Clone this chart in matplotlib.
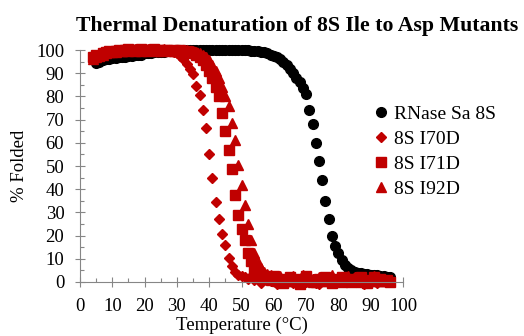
import matplotlib
matplotlib.use("Agg")
import matplotlib.pyplot as plt
import numpy as np
from matplotlib.ticker import MultipleLocator

plt.rcParams['font.family'] = ['Liberation Serif', 'DejaVu Serif']

# temperatures (degC)
temp_wt = np.arange(5, 97)
temp_mut = np.arange(4, 97)

# % folded, RNase Sa 8S (black circles), T = 5..96
folded_wt = [
    94.5, 95, 95.5, 96, 96, 96.5, 96.5, 97, 97, 97,            # 5-14
    97.5, 97.5, 98, 98, 98, 98.5, 98.5, 98.5, 99, 99,          # 15-24
    99, 99, 99.5, 99.5, 99.5, 100, 100, 100, 100, 100,         # 25-34
    100, 100, 100, 100, 100, 100, 100, 100, 100, 100,          # 35-44
    100, 100, 100, 100, 100, 100, 100, 100, 99.5, 99.5,        # 45-54
    99.5, 99, 99, 98.5, 98, 97.5, 97, 96, 95, 93.5,            # 55-64
    92, 90, 88, 86, 83.5, 81, 74, 68, 60, 52,                  # 65-74
    44, 35, 27, 20, 15.5, 12.4, 9.5, 7.5, 6, 5,                # 75-84
    4.5, 4, 4, 3.5, 3.5, 3, 3, 3, 2.5, 2.5,                    # 85-94
    2, 2,                                                      # 95-96
]

# % folded, 8S I70D (diamonds), T = 4..96
folded_i70d = [
    96.5, 97.5, 98, 98.5, 99, 98.5, 99.5, 99, 99.5, 100,       # 4-13
    99.5, 100, 99.5, 100, 100.5, 99.5, 100, 100, 100.5, 99.5,  # 14-23
    100, 100, 99.5, 100, 99.5, 99, 98.5, 97.5, 96, 94,         # 24-33
    92, 89.5, 84.5, 80.5, 74, 66.5, 55, 45, 34.5, 27,          # 34-43
    20.5, 16, 10.5, 7, 4.5, 3, 2.5, 2, 1.5, 2.5,               # 44-53
    1, 1.5, -0.5, 1, 2.5, 0.5, 1, -1, 1.5, 0.5,                # 54-63
    2, 0.5, -0.5, 1.5, 0.5, 2.5, 0, 0.5, 1.5, -0.5,            # 64-73
    -1, 1, 0.5, 2, 0.5, -0.5, 1.5, 0.5, 1, 0,                  # 74-83
    0.5, 2, 0.5, 1, -1, 0.5, 1.5, 0.5, -0.5, 1,                # 84-93
    0.5, 0, 0.5,                                               # 94-96
]

# % folded, 8S I71D (squares), T = 4..96
folded_i71d = [
    97, 98, 97.5, 98.5, 99, 99.5, 99, 99.5, 100, 99.5,         # 4-13
    100, 100.5, 100, 99.5, 100, 100.5, 100, 99.5, 100, 100.5,  # 14-23
    100, 99.5, 100, 100, 99.5, 100, 99.5, 100, 99.5, 99.5,     # 24-33
    99, 98.5, 98, 97, 95.5, 93.5, 91, 88, 84, 80,              # 34-43
    73, 65, 57, 48.5, 37.5, 29, 23, 18, 12.5, 9,               # 44-53
    6, 4, 3, 2.5, 2, 1, 2.5, 0.5, 1.5, -0.5,                   # 54-63
    1, 2, 0.5, 1.5, -1, 1, 2.5, 0.5, 1, 0,                     # 64-73
    1.5, 0.5, 2, 1, -0.5, 1.5, 0.5, 2, 0.5, 1,                 # 74-83
    0, 1.5, 1, 2, 0.5, -0.5, 1, 2, 0.5, 1.5,                   # 84-93
    0.5, 1, 0,                                                 # 94-96
]

# % folded, 8S I92D (triangles), T = 4..96
folded_i92d = [
    96, 97, 98, 98, 98.5, 99, 99.5, 99, 100, 99.5,             # 4-13
    100, 99.5, 100, 100.5, 100, 99.5, 100, 100.5, 100, 100,    # 14-23
    99.5, 100, 100.5, 100, 100, 99.5, 100, 100, 99.5, 100,     # 24-33
    99.5, 99.5, 99, 98.5, 98, 97, 95.5, 93.5, 91, 88,          # 34-43
    84, 80, 76, 68.5, 61, 50.5, 42, 33, 25, 18,                # 44-53
    12.5, 8.5, 6, 4.5, 3.5, 3, 2, 1.5, 2.5, 1,                 # 54-63
    0.5, 1.5, 2.5, 0.5, 1, 3, 0.5, 1.5, 0, 1,                  # 64-73
    2, 1, 0.5, 1.5, 3, 0.5, 1, 0, 1.5, 2.5,                    # 74-83
    0.5, 1, 2, 0, 1.5, 1, 0.5, 2.5, 1, 0.5,                    # 84-93
    1.5, 0.5, 1,                                               # 94-96
]

red = "#C00000"
grey = "#868686"

fig = plt.figure(figsize=(5.24, 3.36), dpi=100)
ax = fig.add_axes([80 / 524, 1 - 282 / 336, 323 / 524, 232 / 336])

ax.plot(temp_wt, folded_wt, 'o', ms=7, color='k', mec='k', label="RNase Sa 8S", clip_on=False)
ax.plot(temp_mut, folded_i70d, 'D', ms=5.5, color=red, mec=red, label="8S I70D", clip_on=False)
ax.plot(temp_mut, folded_i71d, 's', ms=6.5, color=red, mec=red, label="8S I71D", clip_on=False)
ax.plot(temp_mut, folded_i92d, '^', ms=7, color=red, mec=red, label="8S I92D", clip_on=False)

ax.set_xlim(0, 100)
ax.set_ylim(0, 100)
ax.xaxis.set_major_locator(MultipleLocator(10))
ax.xaxis.set_minor_locator(MultipleLocator(5))
ax.yaxis.set_major_locator(MultipleLocator(10))
ax.yaxis.set_minor_locator(MultipleLocator(5))

for s in ['top', 'right']:
    ax.spines[s].set_visible(False)
for s in ['left', 'bottom']:
    ax.spines[s].set_color(grey)
    ax.spines[s].set_linewidth(0.8)

ax.tick_params(which='major', direction='inout', length=6.5, width=0.8, color=grey,
               labelsize=13.5, pad=8)
ax.tick_params(which='minor', direction='in', length=3, width=0.8, color=grey)

ax.set_xlabel("Temperature (°C)", fontsize=13.5, labelpad=1.5)
ax.set_ylabel("% Folded", fontsize=13.5, labelpad=6)

fig.text(0.567, 0.922, "Thermal Denaturation of 8S Ile to Asp Mutants",
         ha='center', va='center', fontsize=15.7, fontweight='bold')

ax.legend(loc='upper left', bbox_to_anchor=(373 / 524, 1 - 105 / 336),
          bbox_transform=fig.transFigure, frameon=False, fontsize=14,
          handlelength=0.8, handletextpad=0.3, labelspacing=0.38,
          borderaxespad=0, borderpad=0)

fig.savefig("out.png", dpi=100)
